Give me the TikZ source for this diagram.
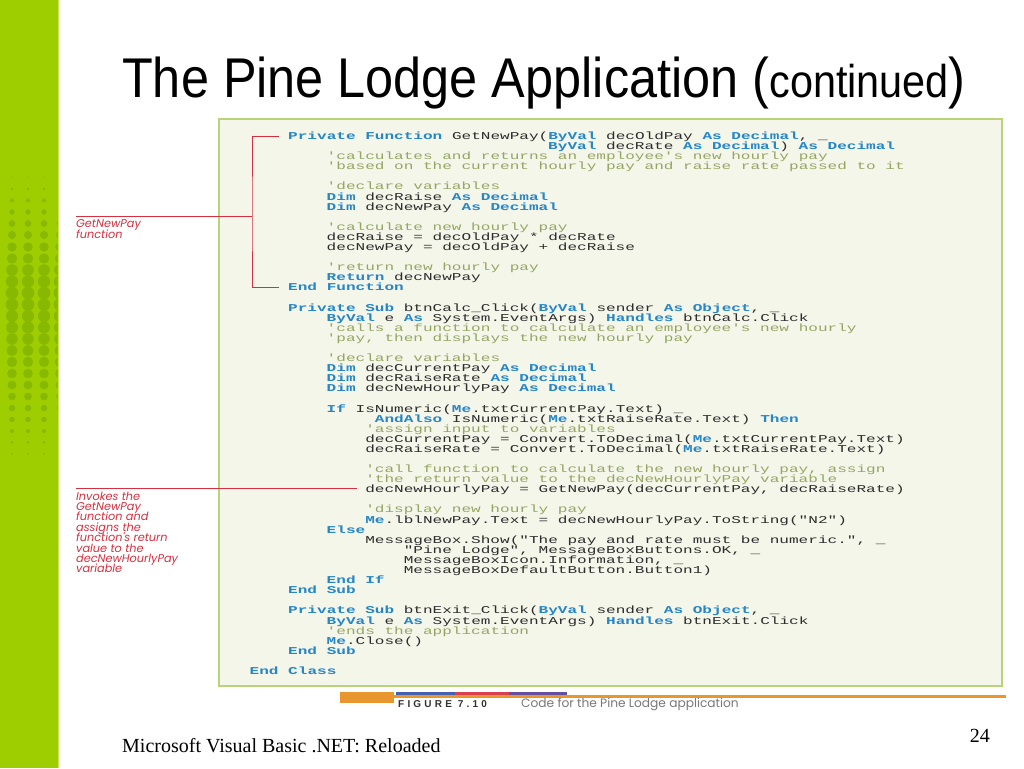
\documentclass[tikz,border=0pt]{standalone}
\usepackage{fontspec}
\setmainfont{Liberation Serif}
\setmonofont[FakeStretch=1.529]{Liberation Mono}
\newfontfamily\titlefont[FakeStretch=0.9]{Liberation Sans}
\newfontfamily\labfont{Poppins}
\newfontfamily\capfont[LetterSpace=32]{Liberation Sans}
\definecolor{lime}{RGB}{158,206,0}
\definecolor{limeedge}{RGB}{200,230,90}
\definecolor{limedot}{RGB}{136,184,0}
\definecolor{boxfill}{RGB}{244,246,234}
\definecolor{boxline}{RGB}{184,212,120}
\definecolor{kwblue}{RGB}{38,134,200}
\definecolor{cmgreen}{RGB}{150,165,100}
\definecolor{codetext}{RGB}{45,45,45}
\definecolor{labred}{RGB}{214,48,64}
\definecolor{capor}{RGB}{232,150,46}
\definecolor{capblue}{RGB}{70,96,176}
\definecolor{capred}{RGB}{216,64,80}
\definecolor{cappurple}{RGB}{100,80,160}
\definecolor{capgray}{RGB}{120,120,120}
\definecolor{capdark}{RGB}{50,50,50}
\newcommand\kw[1]{{\bfseries\color{kwblue}#1}}
\newcommand\cm[1]{{\color{cmgreen}#1}}
\newcommand\tightlines{\lineskiplimit=-30pt\relax\lineskip=0pt\relax}
\newcommand\codeln[3]{\node[codeline] (c#1) at ({249.5+#2*9.63},{139.5+#1*10.094}) {#3};}
\tikzset{
  codeline/.style={anchor=base west, inner sep=0pt, text=codetext, font=\ttfamily\fontsize{10.5}{10.5}\selectfont},
  labeltext/.style={anchor=north west, inner sep=0pt, align=left, text=labred, font=\labfont\itshape\fontsize{11.3}{10.4}\selectfont\tightlines},
  redline/.style={draw=labred, line width=0.9pt},
  codebox/.style={draw=boxline, fill=boxfill, line width=1.6pt}
}
\begin{document}
\begin{tikzpicture}[x=1pt,y=-1pt]
\useasboundingbox (0,0) rectangle (1024,768);
\fill[white] (0,0) rectangle (1024,768);
% green strip
\fill[lime] (0,0) rectangle (57.5,768);
\fill[limeedge] (57.5,0) rectangle (59,768);
\begin{scope}
\clip (0,0) rectangle (57.5,768);
\foreach \yy/\rr in {177/0.7,189/1.3,200.5/2,212/2.7,223.5/3.4,235/4.1,247/4.7,258.5/5.2,270/5.8,281.5/6.2,293/6.4,304.5/6.4,316/6.2,327.5/6,339/5.8,350.5/5.5,362/5.2,373.5/4.8,385/4.4,396.5/3.9,408/3.3,419.5/2.7,431/2,442.5/1.4,454/0.8}
  \foreach \xx in {12,28,44,60} \fill[limedot] (\xx,\yy) circle[radius=\rr];
\end{scope}
% title
\node[anchor=base west, inner sep=0pt, font=\titlefont\fontsize{56}{60}\selectfont] (title) at (122,97)
  {The Pine Lodge Application (\fontsize{46}{50}\selectfont continued\fontsize{56}{60}\selectfont)};
% code box
\draw[codebox] (219,119) rectangle (1002,686);
\codeln{0}{4}{\kw{Private Function} GetNewPay(\kw{ByVal} decOldPay \kw{As Decimal}, \_}
\codeln{1}{31}{\kw{ByVal} decRate \kw{As Decimal}) \kw{As Decimal}}
\codeln{2}{8}{\cm{'calculates and returns an employee's new hourly pay}}
\codeln{3}{8}{\cm{'based on the current hourly pay and raise rate passed to it}}
\codeln{5}{8}{\cm{'declare variables}}
\codeln{6}{8}{\kw{Dim} decRaise \kw{As Decimal}}
\codeln{7}{8}{\kw{Dim} decNewPay \kw{As Decimal}}
\codeln{9}{8}{\cm{'calculate new hourly pay}}
\codeln{10}{8}{decRaise = decOldPay * decRate}
\codeln{11}{8}{decNewPay = decOldPay + decRaise}
\codeln{13}{8}{\cm{'return new hourly pay}}
\codeln{14}{8}{\kw{Return} decNewPay}
\codeln{15}{4}{\kw{End Function}}
\codeln{17}{4}{\kw{Private Sub} btnCalc\_Click(\kw{ByVal} sender \kw{As Object}, \_}
\codeln{18}{8}{\kw{ByVal} e \kw{As} System.EventArgs) \kw{Handles} btnCalc.Click}
\codeln{19}{8}{\cm{'calls a function to calculate an employee's new hourly}}
\codeln{20}{8}{\cm{'pay, then displays the new hourly pay}}
\codeln{22}{8}{\cm{'declare variables}}
\codeln{23}{8}{\kw{Dim} decCurrentPay \kw{As Decimal}}
\codeln{24}{8}{\kw{Dim} decRaiseRate \kw{As Decimal}}
\codeln{25}{8}{\kw{Dim} decNewHourlyPay \kw{As Decimal}}
\codeln{27}{8}{\kw{If} IsNumeric(\kw{Me}.txtCurrentPay.Text) \_}
\codeln{28}{13}{\kw{AndAlso} IsNumeric(\kw{Me}.txtRaiseRate.Text) \kw{Then}}
\codeln{29}{12}{\cm{'assign input to variables}}
\codeln{30}{12}{decCurrentPay = Convert.ToDecimal(\kw{Me}.txtCurrentPay.Text)}
\codeln{31}{12}{decRaiseRate = Convert.ToDecimal(\kw{Me}.txtRaiseRate.Text)}
\codeln{33}{12}{\cm{'call function to calculate the new hourly pay, assign}}
\codeln{34}{12}{\cm{'the return value to the decNewHourlyPay variable}}
\codeln{35}{12}{decNewHourlyPay = GetNewPay(decCurrentPay, decRaiseRate)}
\codeln{37}{12}{\cm{'display new hourly pay}}
\codeln{38}{12}{\kw{Me}.lblNewPay.Text = decNewHourlyPay.ToString("N2")}
\codeln{39}{8}{\kw{Else}}
\codeln{40}{12}{MessageBox.Show("The pay and rate must be numeric.", \_}
\codeln{41}{16}{"Pine Lodge", MessageBoxButtons.OK, \_}
\codeln{42}{16}{MessageBoxIcon.Information, \_}
\codeln{43}{16}{MessageBoxDefaultButton.Button1)}
\codeln{44}{8}{\kw{End If}}
\codeln{45}{4}{\kw{End Sub}}
\codeln{47}{4}{\kw{Private Sub} btnExit\_Click(\kw{ByVal} sender \kw{As Object}, \_}
\codeln{48}{8}{\kw{ByVal} e \kw{As} System.EventArgs) \kw{Handles} btnExit.Click}
\codeln{49}{8}{\cm{'ends the application}}
\codeln{50}{8}{\kw{Me}.Close()}
\codeln{51}{4}{\kw{End Sub}}
\codeln{53}{0}{\kw{End Class}}
% labels and leaders
\node[labeltext] (lab1) at (76,219.5) {GetNewPay\\function};
\node[labeltext] (lab2) at (76,491.5) {Invokes the\\GetNewPay\\function and\\assigns the\\function's return\\value to the\\decNewHourlyPay\\variable};
\coordinate (bt) at (279,136);
\coordinate (bb) at (279,287);
\coordinate (bm) at (252,216);
\coordinate (l1s) at (76,216);
\coordinate (l2s) at (76,488);
\coordinate (l2e) at (357,488);
\draw[redline] (bt) -| (bm) |- (bb);
\draw[redline] (l1s) -- (bm);
\draw[redline] (l2s) -- (l2e);
% caption bar
\fill[capor] (340,692) rectangle (394,703);
\fill[capor] (394,694.5) rectangle (1006,698);
\fill[capblue] (396,692) rectangle (455,694.5);
\fill[capred] (455,692) rectangle (509,694.5);
\fill[cappurple] (509,692) rectangle (567,694.5);
\node[anchor=base west, inner sep=0pt, text=capdark, font=\capfont\bfseries\fontsize{10}{10}\selectfont] (figno) at (398,707) {FIGURE 7.10};
\node[anchor=base west, inner sep=0pt, text=capgray, font=\labfont\fontsize{12.2}{12}\selectfont] (figcap) at (521,707) {Code for the Pine Lodge application};
% footer
\node[anchor=base west, inner sep=0pt, font=\fontsize{20}{20}\selectfont] (foot) at (122,752) {Microsoft Visual Basic .NET: Reloaded};
\node[anchor=base east, inner sep=0pt, font=\fontsize{20}{20}\selectfont] (pg) at (990,742) {24};
\end{tikzpicture}
\end{document}
